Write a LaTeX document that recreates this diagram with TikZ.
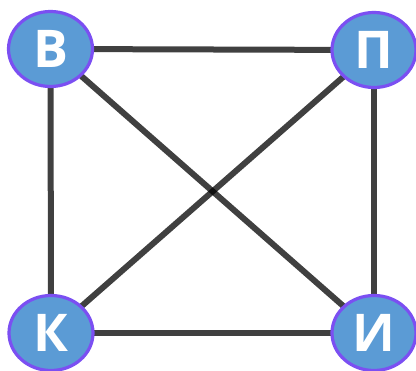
\documentclass[tikz,border=0pt]{standalone}
\usepackage{fontspec}
\setmainfont{Open Sans}
\usetikzlibrary{shapes.geometric,backgrounds}
\definecolor{nodefill}{HTML}{5B9BD5}
\definecolor{nodeborder}{HTML}{7B4FF2}
\tikzset{
  vert/.style={ellipse, draw=nodeborder, line width=3.2pt, fill=nodefill,
    minimum width=84pt, minimum height=75pt, inner sep=0pt,
    text=white, font=\fontsize{52}{52}\selectfont\bfseries},
  edge/.style={draw=black, draw opacity=0.75, line width=6pt}
}
\begin{document}
\begin{tikzpicture}[x=1pt,y=-1pt]
\useasboundingbox (0,0) rectangle (416,371);
\node[vert] (V) at (50.5,49) {В};
\node[vert] (P) at (374,50) {П};
\node[vert] (K) at (51,333) {К};
\node[vert] (I) at (374,333) {И};
\begin{pgfonlayer}{background}
\draw[edge] (V.center) -- (P.center);
\draw[edge] (K.center) -- (I.center);
\draw[edge] (V.center) -- (K.center);
\draw[edge] (P.center) -- (I.center);
\draw[edge] (V.center) -- (I.center);
\draw[edge] (P.center) -- (K.center);
\end{pgfonlayer}
\end{tikzpicture}
\end{document}
